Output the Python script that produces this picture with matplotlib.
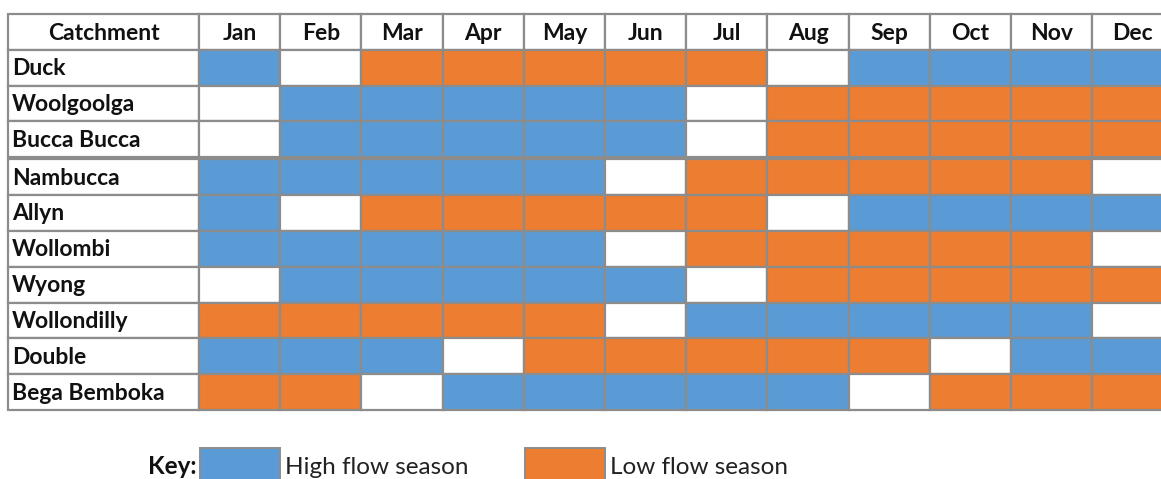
import numpy as np
import matplotlib
matplotlib.use('Agg')
import matplotlib.pyplot as plt
from matplotlib.patches import Rectangle

plt.rcParams['font.family'] = ['Lato', 'DejaVu Sans']

catchments = ["Duck", "Woolgoolga", "Bucca Bucca", "Nambucca", "Allyn", "Wollombi",
              "Wyong", "Wollondilly", "Double", "Bega Bemboka"]
months = ["Jan", "Feb", "Mar", "Apr", "May", "Jun", "Jul", "Aug", "Sep", "Oct", "Nov", "Dec"]

# H = high flow season, L = low flow season, - = neither
seasons = [
    "H-LLLLL-HHHH",
    "-HHHHH-LLLLL",
    "-HHHHH-LLLLL",
    "HHHHH-LLLLL-",
    "H-LLLLL-HHHH",
    "HHHHH-LLLLL-",
    "-HHHHH-LLLLL",
    "LLLLL-HHHHH-",
    "HHH-LLLLL-HH",
    "LL-HHHHH-LLL",
]

key_labels = ["High flow season", "Low flow season"]

BLUE = "#5B9BD5"
ORANGE = "#ED7D31"
GRID = "#8C8C8C"
colors = {"H": BLUE, "L": ORANGE, "-": "white"}

W, H = 1161, 479
fig = plt.figure(figsize=(W / 100, H / 100), dpi=100)
ax = fig.add_axes([0, 0, 1, 1])
ax.set_xlim(0, W)
ax.set_ylim(H, 0)
ax.axis("off")

# table geometry (pixels)
x0, first_w, col_w = 8, 191, 81.2
col_edges = [x0, x0 + first_w] + [x0 + first_w + col_w * (k + 1) for k in range(len(months))]
top, head_h = 14, 36
row_tops = []
y = top + head_h
for i in range(len(catchments)):
    if i == 3:
        y += 2  # double rule between groups
    h = 35.7 if i < 3 else 35.86
    row_tops.append((y, h))
    y += h

lw = 1.6
fs = 16.5
# header
for j, label in enumerate(["Catchment"] + months):
    xl, xr = col_edges[j], col_edges[j + 1]
    ax.add_patch(Rectangle((xl, top), xr - xl, head_h, facecolor="white",
                           edgecolor=GRID, lw=lw))
    ax.text((xl + xr) / 2, top + head_h / 2 + 1, label, ha="center", va="center",
            fontsize=fs, fontweight="bold", color="#111111")

# body
for i, name in enumerate(catchments):
    yt, h = row_tops[i]
    ax.add_patch(Rectangle((col_edges[0], yt), col_edges[1] - col_edges[0], h,
                           facecolor="white", edgecolor=GRID, lw=lw))
    ax.text(col_edges[0] + 4, yt + h / 2 + 1, name, ha="left", va="center",
            fontsize=fs, fontweight="bold", color="#111111")
    for j, s in enumerate(seasons[i]):
        xl, xr = col_edges[j + 1], col_edges[j + 2]
        ax.add_patch(Rectangle((xl, yt), xr - xl, h, facecolor=colors[s],
                               edgecolor=GRID, lw=lw))

# key
ky = 448
ax.text(197, ky + 19, "Key:", ha="right", va="center", fontsize=17.5,
        fontweight="bold", color="#111111")
for kx, c, lab in [(200, BLUE, key_labels[0]), (525, ORANGE, key_labels[1])]:
    ax.add_patch(Rectangle((kx, ky), 80, 40, facecolor=c, edgecolor=GRID, lw=1.4))
    ax.text(kx + 85, ky + 19, lab, ha="left", va="center", fontsize=17.5,
            color="#222222")

fig.savefig("out.png", dpi=100)
